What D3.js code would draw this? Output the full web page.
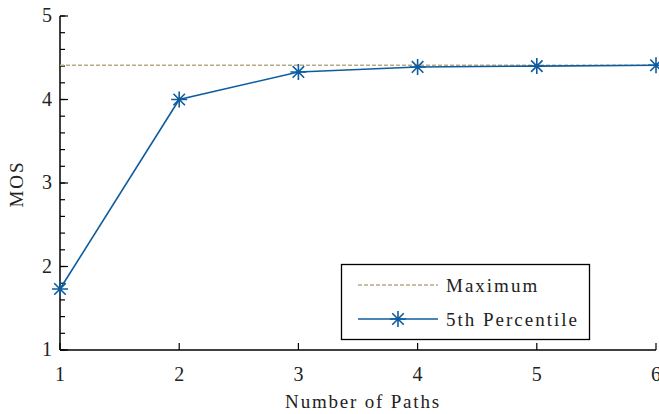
<!DOCTYPE html>
<html>
<head>
<meta charset="utf-8">
<script src="https://cdn.jsdelivr.net/npm/d3@7"></script>
<style>
    body { margin: 0; background: #fff; }
</style>
</head>
<body>
<svg id="chart" width="659" height="414"></svg>
<script>
(function () {
    'use strict';
    var paths = [1, 2, 3, 4, 5, 6],
        percentile5 = [1.73, 4.0, 4.33, 4.39, 4.40, 4.41],
        maximum = 4.41,
        xTicks = [1, 2, 3, 4, 5, 6],
        yTicks = [1, 2, 3, 4, 5],
        legendLabels = ['Maximum', '5th Percentile'];

    var svg = d3.select('#chart'),
        font = "'Liberation Serif'",
        lineColor = '#0e5c9e',
        maxColor = '#b5ab88',
        x = d3.scaleLinear().domain([1, 6]).range([60, 656]),
        y = d3.scaleLinear().domain([1, 5]).range([350, 16]);

    // minor ticks on y axis
    svg.append('g').selectAll('line')
        .data(d3.range(1, 5.01, 0.2))
        .enter().append('line')
        .attr('x1', x(1)).attr('x2', x(1) + 5)
        .attr('y1', function (d) { return y(d); })
        .attr('y2', function (d) { return y(d); })
        .attr('stroke', '#000').attr('stroke-width', 1.2);

    // major y ticks
    svg.append('g').selectAll('line')
        .data(yTicks)
        .enter().append('line')
        .attr('x1', x(1)).attr('x2', x(1) + 8)
        .attr('y1', function (d) { return y(d); })
        .attr('y2', function (d) { return y(d); })
        .attr('stroke', '#000').attr('stroke-width', 1.2);

    // x ticks
    svg.append('g').selectAll('line')
        .data(xTicks)
        .enter().append('line')
        .attr('x1', function (d) { return x(d); })
        .attr('x2', function (d) { return x(d); })
        .attr('y1', y(1)).attr('y2', y(1) - 7)
        .attr('stroke', '#000').attr('stroke-width', 1.2);

    // axis lines
    svg.append('line')
        .attr('x1', x(1)).attr('x2', x(1))
        .attr('y1', y(5)).attr('y2', y(1))
        .attr('stroke', '#000').attr('stroke-width', 1.5);
    svg.append('line')
        .attr('x1', x(1)).attr('x2', x(6))
        .attr('y1', y(1)).attr('y2', y(1))
        .attr('stroke', '#000').attr('stroke-width', 1.5);

    // tick labels
    svg.append('g').selectAll('text')
        .data(yTicks)
        .enter().append('text')
        .attr('x', 52).attr('y', function (d) { return y(d) + 6; })
        .attr('text-anchor', 'end')
        .attr('font-size', 20)
        .attr('font-family', font).style('font-family', font)
        .attr('fill', '#222')
        .text(function (d) { return d; });
    svg.append('g').selectAll('text')
        .data(xTicks)
        .enter().append('text')
        .attr('x', function (d) { return x(d); })
        .attr('y', 381)
        .attr('text-anchor', 'middle')
        .attr('font-size', 20)
        .attr('font-family', font).style('font-family', font)
        .attr('fill', '#222')
        .text(function (d) { return d; });

    // axis titles
    svg.append('text')
        .attr('x', 363).attr('y', 408)
        .attr('text-anchor', 'middle')
        .attr('font-size', 19)
        .attr('letter-spacing', 1.8)
        .attr('font-family', font).style('font-family', font)
        .attr('fill', '#222')
        .text('Number of Paths');
    svg.append('text')
        .attr('transform', 'translate(23,' + (y(3) + 1) + ') rotate(-90)')
        .attr('text-anchor', 'middle')
        .attr('font-size', 19)
        .attr('letter-spacing', 2)
        .attr('font-family', font).style('font-family', font)
        .attr('fill', '#222')
        .text('MOS');

    function asterisk(g, cx, cy, r) {
        var d = r * 0.72;
        g.append('path')
            .attr('d', 'M' + (cx - r) + ',' + cy + 'H' + (cx + r) +
                'M' + cx + ',' + (cy - r) + 'V' + (cy + r) +
                'M' + (cx - d) + ',' + (cy - d) + 'L' + (cx + d) + ',' + (cy + d) +
                'M' + (cx - d) + ',' + (cy + d) + 'L' + (cx + d) + ',' + (cy - d))
            .attr('stroke', lineColor).attr('stroke-width', 1.6).attr('fill', 'none');
    }

    // maximum dashed line
    svg.append('line')
        .attr('x1', x(1)).attr('x2', x(6))
        .attr('y1', y(maximum)).attr('y2', y(maximum))
        .attr('stroke', maxColor).attr('stroke-width', 1.3)
        .attr('stroke-dasharray', '4,2');

    // 5th percentile line
    var line = d3.line()
        .x(function (d, i) { return x(paths[i]); })
        .y(function (d) { return y(d); });
    svg.append('path')
        .datum(percentile5)
        .attr('d', line)
        .attr('fill', 'none')
        .attr('stroke', lineColor).attr('stroke-width', 1.6);
    var markers = svg.append('g');
    percentile5.forEach(function (d, i) {
        asterisk(markers, x(paths[i]), y(d), 8);
    });

    // legend
    var lg = svg.append('g');
    lg.append('rect')
        .attr('x', 341.5).attr('y', 264.5)
        .attr('width', 248).attr('height', 75)
        .attr('fill', '#fff').attr('stroke', '#000').attr('stroke-width', 1.3);
    lg.append('line')
        .attr('x1', 358).attr('x2', 438).attr('y1', 285).attr('y2', 285)
        .attr('stroke', maxColor).attr('stroke-width', 1.3)
        .attr('stroke-dasharray', '4,2');
    lg.append('line')
        .attr('x1', 358).attr('x2', 438).attr('y1', 319).attr('y2', 319)
        .attr('stroke', lineColor).attr('stroke-width', 1.6);
    asterisk(lg, 398, 319, 8);
    lg.selectAll('text.lbl')
        .data(legendLabels)
        .enter().append('text')
        .attr('class', 'lbl')
        .attr('x', 446)
        .attr('y', function (d, i) { return 292 + i * 34; })
        .attr('font-size', 19)
        .attr('letter-spacing', 2)
        .attr('font-family', font).style('font-family', font)
        .attr('fill', '#222')
        .text(function (d) { return d; });
}());
</script>
</body>
</html>
